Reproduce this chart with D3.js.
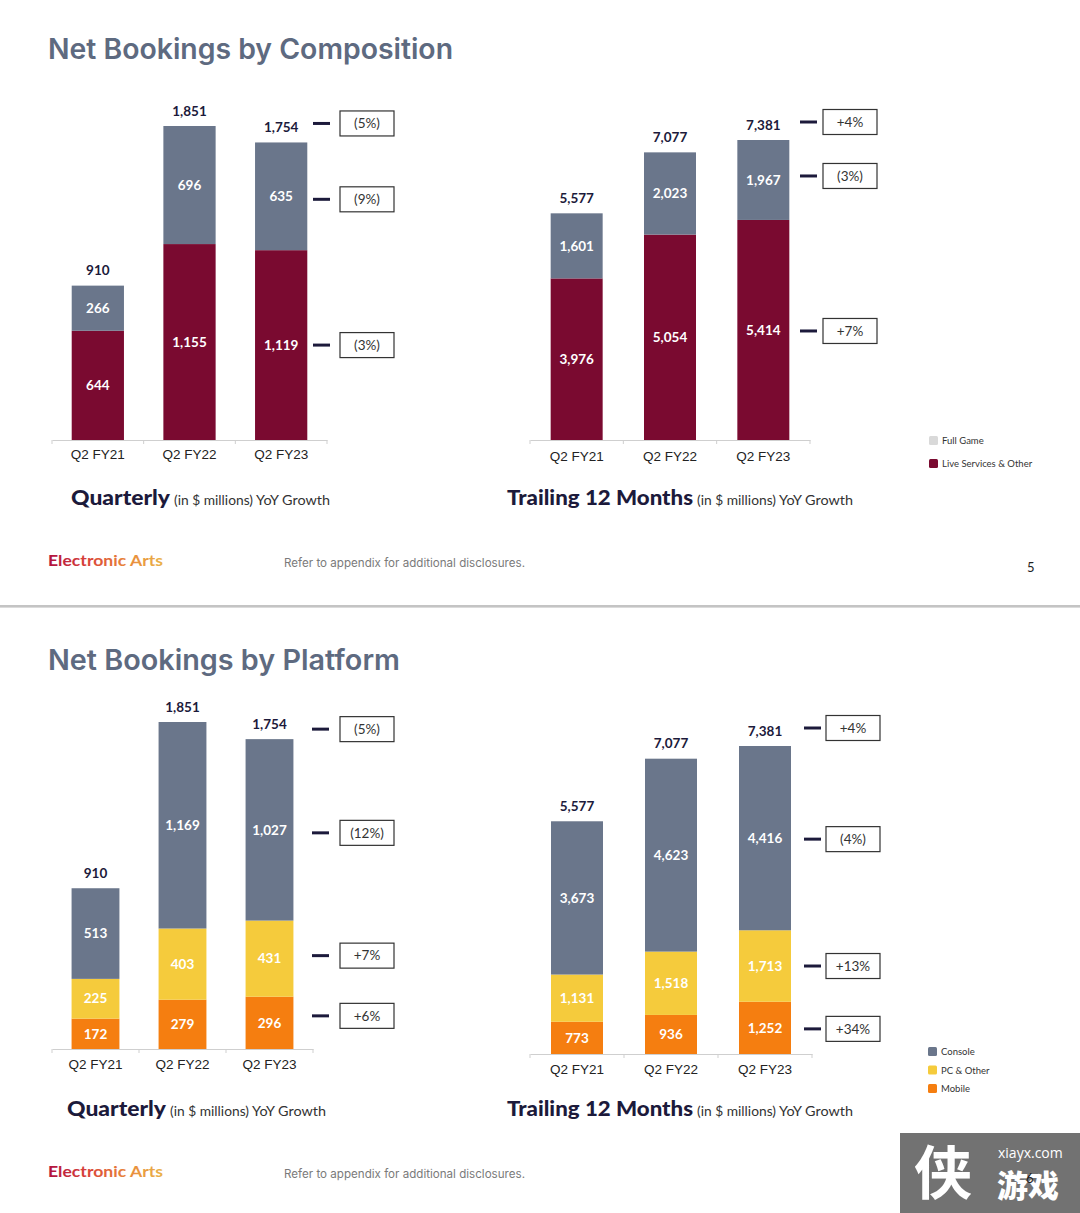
<!DOCTYPE html>
<html><head><meta charset="utf-8">
<script src="https://cdn.jsdelivr.net/npm/d3@7"></script>
<style>body{margin:0;background:#fff}svg{display:block}</style>
</head><body><svg id="c" width="1080" height="1213"></svg>
<script>
const categories = ["Q2 FY21","Q2 FY22","Q2 FY23"];
const compQuarterFullGame = [266,696,635];
const compQuarterLive = [644,1155,1119];
const compQuarterTotal = [910,1851,1754];
const compQuarterGrowth = ["(5%)","(9%)","(3%)"];
const compTtmFullGame = [1601,2023,1967];
const compTtmLive = [3976,5054,5414];
const compTtmTotal = [5577,7077,7381];
const compTtmGrowth = ["+4%","(3%)","+7%"];
const platQuarterConsole = [513,1169,1027];
const platQuarterPc = [225,403,431];
const platQuarterMobile = [172,279,296];
const platQuarterTotal = [910,1851,1754];
const platQuarterGrowth = ["(5%)","(12%)","+7%","+6%"];
const platTtmConsole = [3673,4623,4416];
const platTtmPc = [1131,1518,1713];
const platTtmMobile = [773,936,1252];
const platTtmTotal = [5577,7077,7381];
const platTtmGrowth = ["+4%","(4%)","+13%","+34%"];
const compLegend = ["Full Game","Live Services & Other"];
const platLegend = ["Console","PC & Other","Mobile"];

const C = {gray:"#6a768b", maroon:"#7a0a30", yellow:"#f5cb3c", orange:"#f57e10", legendGray:"#d9d9d9",
  navy:"#1c1a3b", title:"#5e6a80"};
const svg = d3.select("#c");
const fmt = d3.format(",");

function panel(cfg){
  const g = svg.append("g");
  const keys = cfg.series.map((s,i)=>"k"+i);
  const rows = categories.map((c,i)=>{const r={cat:c}; cfg.series.forEach((s,j)=>r["k"+j]=s.values[i]); return r;});
  const stacked = d3.stack().keys(keys)(rows);
  const x = d3.scaleBand().domain(categories).range([cfg.x0,cfg.x1]).paddingInner(cfg.pad).paddingOuter(cfg.pad/2);
  const y = d3.scaleLinear().domain([0,d3.max(cfg.totals)]).range([cfg.base,cfg.top]);
  stacked.forEach((layer,j)=>{
    g.append("g").selectAll("rect").data(layer).join("rect")
      .attr("x",d=>x(d.data.cat)).attr("width",x.bandwidth())
      .attr("y",d=>y(d[1])).attr("height",d=>y(d[0])-y(d[1]))
      .attr("fill",cfg.series[j].color);
    g.append("g").selectAll("text").data(layer).join("text")
      .attr("x",d=>x(d.data.cat)+x.bandwidth()/2).attr("y",d=>(y(d[0])+y(d[1]))/2)
      .attr("dy","0.35em").attr("text-anchor","middle")
      .attr("font-family","Lato, 'Open Sans', sans-serif").attr("font-weight",700).attr("font-size",13.5)
      .attr("fill","#fff").text(d=>fmt(d[1]-d[0]));
  });
  // totals
  g.append("g").selectAll("text").data(cfg.totals).join("text")
    .attr("x",(d,i)=>x(categories[i])+x.bandwidth()/2).attr("y",d=>y(d)-15)
    .attr("dy","0.35em").attr("text-anchor","middle")
    .attr("font-family","Lato, 'Open Sans', sans-serif").attr("font-weight",700).attr("font-size",13.5)
    .attr("fill",C.navy).text(d=>fmt(d));
  // axis
  const ax = g.append("g").attr("transform",`translate(0,${cfg.base})`)
    .call(d3.axisBottom(x).tickSize(0).tickPadding(cfg.labelPad));
  ax.select(".domain").attr("stroke","#cfcfcf").attr("stroke-width",1);
  ax.selectAll("text").attr("font-family","'Liberation Sans', Arial, sans-serif").attr("font-size",13.5).attr("fill","#222");
  const bounds = categories.map(c=>x(c)-x.step()*cfg.pad/2).concat([cfg.x1]);
  g.append("g").selectAll("line").data(bounds).join("line")
    .attr("x1",d=>d).attr("x2",d=>d).attr("y1",cfg.base).attr("y2",cfg.base+4)
    .attr("stroke","#cfcfcf");
  // growth markers
  const last = categories.length-1;
  const gy = [y(cfg.totals[last])-16];
  for(let j=stacked.length-1;j>=0;j--){const d=stacked[j][last]; gy.push((y(d[0])+y(d[1]))/2);}
  cfg.growth.forEach((t,i)=>{
    const yy = gy[i] + (cfg.gyAdj? cfg.gyAdj[i]:0);
    g.append("line").attr("x1",cfg.dashX).attr("x2",cfg.dashX+17).attr("y1",yy).attr("y2",yy)
      .attr("stroke",C.navy).attr("stroke-width",3);
    g.append("rect").attr("x",cfg.boxX).attr("y",yy-12.5).attr("width",54).attr("height",25)
      .attr("fill","#fff").attr("stroke","#333").attr("stroke-width",1.2);
    g.append("text").attr("x",cfg.boxX+27).attr("y",yy).attr("dy","0.35em").attr("text-anchor","middle")
      .attr("font-family","Lato, sans-serif").attr("font-size",13.5).attr("fill","#333").text(t);
  });
}

panel({series:[{values:compQuarterLive,color:C.maroon},{values:compQuarterFullGame,color:C.gray}],
  totals:compQuarterTotal,growth:compQuarterGrowth,x0:52,x1:327,pad:0.43,base:440,top:126,
  dashX:313,boxX:340,labelPad:9,gyAdj:[-3,3,0]});
panel({series:[{values:compTtmLive,color:C.maroon},{values:compTtmFullGame,color:C.gray}],
  totals:compTtmTotal,growth:compTtmGrowth,x0:530,x1:810,pad:0.443,base:440,top:140,
  dashX:800,boxX:823,labelPad:11,gyAdj:[-2,-4,1]});
panel({series:[{values:platQuarterMobile,color:C.orange},{values:platQuarterPc,color:C.yellow},{values:platQuarterConsole,color:C.gray}],
  totals:platQuarterTotal,growth:platQuarterGrowth,x0:52,x1:313,pad:0.45,base:1049,top:722,
  dashX:312,boxX:340,labelPad:10,gyAdj:[6,3,-3,-7]});
panel({series:[{values:platTtmMobile,color:C.orange},{values:platTtmPc,color:C.yellow},{values:platTtmConsole,color:C.gray}],
  totals:platTtmTotal,growth:platTtmGrowth,x0:530,x1:812,pad:0.447,base:1054,top:746,
  dashX:804,boxX:826,labelPad:10,gyAdj:[-2,1,0,1]});

// legends
function legend(items,colors,x,y0,step){
  items.forEach((t,i)=>{
    svg.append("rect").attr("x",x).attr("y",y0+i*step-5).attr("width",9).attr("height",9).attr("rx",1.5).attr("fill",colors[i]);
    svg.append("text").attr("x",x+13).attr("y",y0+i*step).attr("dy","0.35em")
      .attr("font-family","Lato, sans-serif").attr("font-size",9.5).attr("fill","#333").text(t);
  });
}
legend(compLegend,[C.legendGray,C.maroon],929,441,23);
legend(platLegend,[C.gray,C.yellow,C.orange],928,1052,18.5);

// titles
function title(t,y,len){
  svg.append("text").attr("x",48).attr("y",y).attr("font-family","Inter, 'Open Sans', sans-serif")
    .attr("font-weight",600).attr("font-size",28).attr("fill",C.title)
    .attr("textLength",len).attr("lengthAdjust","spacingAndGlyphs").text(t);
}
title("Net Bookings by Composition",59,405);
title("Net Bookings by Platform",670,352);

function subtitle(x,y,big,bigLen){
  const t = svg.append("text").attr("x",x).attr("y",y).attr("fill",C.navy).attr("font-family","Lato, sans-serif");
  t.append("tspan").attr("font-size",20).attr("font-weight",900).attr("textLength",bigLen).attr("lengthAdjust","spacingAndGlyphs").text(big);
  t.append("tspan").attr("x",x+bigLen+4).attr("font-size",13.5).attr("fill","#333")
    .attr("textLength",79).attr("lengthAdjust","spacingAndGlyphs").text("(in $ millions)");
  t.append("tspan").attr("x",x+bigLen+86).attr("font-size",14).attr("fill","#333")
    .attr("textLength",74).attr("lengthAdjust","spacingAndGlyphs").text("YoY Growth");
}
subtitle(71,505,"Quarterly",99);
subtitle(507,505,"Trailing 12 Months",186);
subtitle(67,1116,"Quarterly",99);
subtitle(507,1116,"Trailing 12 Months",186);

// footers
const defs = svg.append("defs");
const lg = defs.append("linearGradient").attr("id","ea").attr("x1","0").attr("x2","1");
lg.append("stop").attr("offset","0").attr("stop-color","#b0123f");
lg.append("stop").attr("offset","0.35").attr("stop-color","#d9443a");
lg.append("stop").attr("offset","0.7").attr("stop-color","#e98a3c");
lg.append("stop").attr("offset","1").attr("stop-color","#e9b24a");
function footer(y){
  svg.append("text").attr("x",48).attr("y",y).attr("font-family","Lato, sans-serif").attr("font-weight",700)
    .attr("font-size",16).attr("fill","url(#ea)").attr("textLength",115).attr("lengthAdjust","spacingAndGlyphs").text("Electronic Arts");
  svg.append("text").attr("x",284).attr("y",y+1).attr("font-family","Inter, sans-serif").attr("font-size",11.5)
    .attr("fill","#7a7a7a").attr("textLength",241).attr("lengthAdjust","spacingAndGlyphs").text("Refer to appendix for additional disclosures.");
}
footer(566);
footer(1177);
svg.append("text").attr("x",1027).attr("y",572).attr("font-family","Lato, sans-serif").attr("font-size",13).attr("fill","#222").text("5");
svg.append("rect").attr("x",0).attr("y",605).attr("width",1080).attr("height",2.6).attr("fill","#c4c4c4");

// watermark
svg.append("rect").attr("x",900).attr("y",1133).attr("width",180).attr("height",80).attr("fill","#727272");
svg.append("text").attr("x",914).attr("y",1194).attr("font-family","'Noto Sans CJK SC', sans-serif").attr("font-weight",700)
  .attr("font-size",58).attr("fill","#fff").text("侠");
svg.append("text").attr("x",998).attr("y",1158).attr("font-family","'Open Sans', sans-serif").attr("font-size",14).attr("fill","#fff").text("xiayx.com");
svg.append("text").attr("x",997).attr("y",1197).attr("font-family","'Noto Sans CJK SC', sans-serif").attr("font-weight",900)
  .attr("font-size",31).attr("fill","#fff").text("游戏");
svg.append("text").attr("x",1026).attr("y",1183).attr("font-family","Lato, sans-serif").attr("font-size",13).attr("fill","#222").text("6");
</script></body></html>
